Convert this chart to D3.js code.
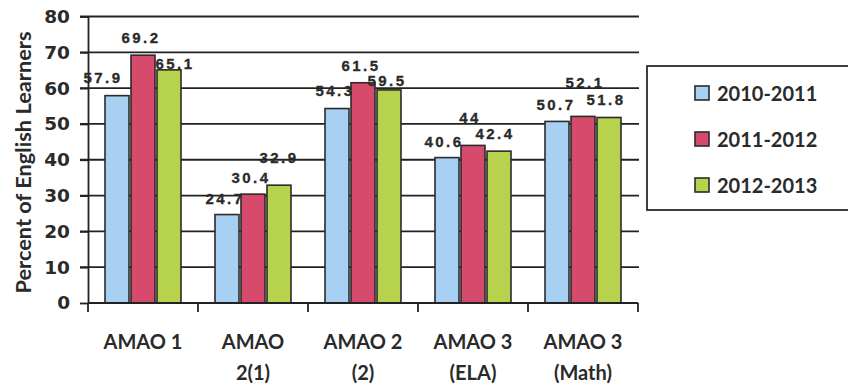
<!DOCTYPE html>
<html>
<head>
<meta charset="utf-8">
<script src="https://cdn.jsdelivr.net/npm/d3@7"></script>
<style>
  html, body { margin: 0; padding: 0; background: #fff; }
  svg { display: block; }
</style>
</head>
<body>
<svg id="chart" width="848" height="386"></svg>
<script>
// Category labels (two lines each) and yearly series
const categories = ["AMAO 1", "AMAO 2(1)", "AMAO 2 (2)", "AMAO 3 (ELA)", "AMAO 3 (Math)"];
const categoryLines = [["AMAO 1"], ["AMAO", "2(1)"], ["AMAO 2", "(2)"], ["AMAO 3", "(ELA)"], ["AMAO 3", "(Math)"]];
const seriesNames = ["2010-2011", "2011-2012", "2012-2013"];
const values2010 = [57.9, 24.7, 54.3, 40.6, 50.7];
const values2011 = [69.2, 30.4, 61.5, 44, 52.1];
const values2012 = [65.1, 32.9, 59.5, 42.4, 51.8];
const yTicks = [0, 10, 20, 30, 40, 50, 60, 70, 80];

// Presentation
const colors = ["#a8d0f2", "#d64a6c", "#b7d24c"];
const margin = { left: 88, right: 210, top: 16.5, bottom: 83 };
const width = 848, height = 386;
// hand-placed data label nudges [dx, dy] per series per category
const labelNudge = [
  [[-14, -13], [-2, -11], [-2, -13], [-3, -11], [-1, -11]],
  [[-2, -12], [-2, -11], [-2, -12], [-3, -22], [2, -28]],
  [[6, -1], [0, -22], [-2, -4], [-4, -12], [-3, -12]]
];

const series = [values2010, values2011, values2012];
const svg = d3.select("#chart");

const x = d3.scaleBand()
  .domain(categories)
  .range([margin.left, width - margin.right])
  .paddingInner(0).paddingOuter(0);

const y = d3.scaleLinear()
  .domain([0, 80])
  .range([height - margin.bottom, margin.top]);

const xInner = d3.scaleBand()
  .domain(seriesNames)
  .range([0, x.bandwidth()])
  .paddingInner(0.077)
  .paddingOuter(0.654);

// Gridlines with left tick stubs
const gridG = svg.append("g");
gridG.selectAll("line")
  .data(yTicks.filter(t => t > 0))
  .join("line")
  .attr("x1", margin.left - 8)
  .attr("x2", width - margin.right + 1)
  .attr("y1", d => y(d))
  .attr("y2", d => y(d))
  .attr("stroke", "#222")
  .attr("stroke-width", 1.8);

// Y axis
const yAxis = svg.append("g")
  .attr("transform", `translate(${margin.left},0)`)
  .call(d3.axisLeft(y).tickValues(yTicks).tickSize(8).tickPadding(10).tickSizeOuter(0));
yAxis.select(".domain").attr("stroke", "#222").attr("stroke-width", 1.8);
yAxis.selectAll(".tick line").attr("stroke", "#222").attr("stroke-width", 1.8);
yAxis.selectAll(".tick text")
  .attr("font-family", "DejaVu Sans, Verdana, sans-serif")
  .attr("font-weight", "bold")
  .attr("font-size", 18.5)
  .attr("fill", "#2a2a2a");

// Bars
const groups = svg.append("g").selectAll("g")
  .data(categories)
  .join("g")
  .attr("transform", d => `translate(${x(d)},0)`);

groups.each(function(cat, ci) {
  const g = d3.select(this);
  seriesNames.forEach((s, si) => {
    const v = series[si][ci];
    g.append("rect")
      .attr("x", xInner(s))
      .attr("width", xInner.bandwidth())
      .attr("y", y(v))
      .attr("height", y(0) - y(v))
      .attr("fill", colors[si])
      .attr("stroke", "#2b2b2b")
      .attr("stroke-width", 1.6);
  });
});

// X axis with boundary ticks
const xAxisG = svg.append("g")
  .attr("transform", `translate(0,${y(0)})`);
xAxisG.append("line")
  .attr("x1", margin.left).attr("x2", width - margin.right)
  .attr("stroke", "#222").attr("stroke-width", 1.8);
const boundaries = categories.map(c => x(c)).concat([x(categories[categories.length - 1]) + x.bandwidth()]);
xAxisG.selectAll("line.b")
  .data(boundaries)
  .join("line")
  .attr("class", "b")
  .attr("x1", d => d).attr("x2", d => d)
  .attr("y1", 0).attr("y2", 9)
  .attr("stroke", "#222").attr("stroke-width", 1.8);

// Category labels
const catText = svg.append("g").selectAll("text")
  .data(categories)
  .join("text")
  .attr("x", d => x(d) + x.bandwidth() / 2)
  .attr("y", y(0) + 46)
  .attr("text-anchor", "middle")
  .attr("font-family", "Lato, 'Open Sans', sans-serif")
  .attr("font-weight", "bold")
  .attr("font-size", 20)
  .attr("fill", "#2a2a2a");
catText.each(function(d, i) {
  const t = d3.select(this);
  categoryLines[i].forEach((line, li) => {
    t.append("tspan")
      .attr("x", x(d) + x.bandwidth() / 2)
      .attr("dy", li === 0 ? 0 : 31)
      .text(line);
  });
});

// Data labels
const labelG = svg.append("g");
categories.forEach((cat, ci) => {
  seriesNames.forEach((s, si) => {
    const v = series[si][ci];
    const nudge = labelNudge[si][ci];
    labelG.append("text")
      .attr("x", x(cat) + xInner(s) + xInner.bandwidth() / 2 + nudge[0])
      .attr("y", y(v) + nudge[1])
      .attr("text-anchor", "middle")
      .attr("font-family", "'Liberation Sans', Arial, sans-serif")
      .attr("font-weight", "bold")
      .attr("font-size", 15)
      .attr("letter-spacing", 2.4)
      .attr("fill", "#2a2a2a")
      .attr("stroke", "#2a2a2a")
      .attr("stroke-width", 0.3)
      .text(v);
  });
});

// Y axis title
svg.append("text")
  .attr("transform", `translate(31,${(y(0) + 22) / 2}) rotate(-90)`)
  .attr("text-anchor", "middle")
  .attr("font-family", "Lato, 'Open Sans', sans-serif")
  .attr("font-weight", "bold")
  .attr("font-size", 20)
  .attr("textLength", 262)
  .attr("lengthAdjust", "spacingAndGlyphs")
  .attr("fill", "#2a2a2a")
  .text("Percent of English Learners");

// Legend
const legend = svg.append("g");
legend.append("rect")
  .attr("x", 647).attr("y", 66)
  .attr("width", 230).attr("height", 144)
  .attr("fill", "#fff")
  .attr("stroke", "#2b2b2b")
  .attr("stroke-width", 1.8);
const legendRow = d3.scalePoint().domain(seriesNames).range([93, 185]);
seriesNames.forEach((s, si) => {
  const cy = legendRow(s);
  legend.append("rect")
    .attr("x", 695).attr("y", cy - 7)
    .attr("width", 14).attr("height", 14)
    .attr("fill", colors[si])
    .attr("stroke", "#2b2b2b")
    .attr("stroke-width", 1.6);
  legend.append("text")
    .attr("x", 717).attr("y", cy + 7.5)
    .attr("font-family", "Lato, 'Open Sans', sans-serif")
    .attr("font-weight", "bold")
    .attr("font-size", 20)
    .attr("fill", "#2a2a2a")
    .text(s);
});
</script>
</body>
</html>
